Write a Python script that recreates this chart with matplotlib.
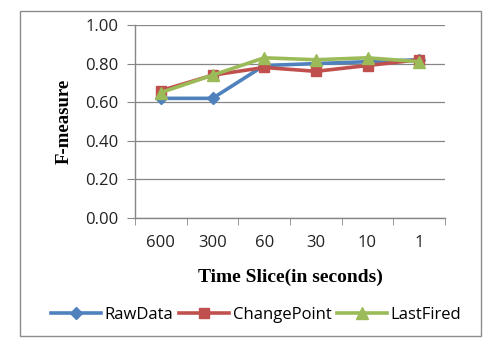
import matplotlib
matplotlib.use("Agg")
import matplotlib.pyplot as plt
from matplotlib.patches import Rectangle

categories = ["600", "300", "60", "30", "10", "1"]
raw_data = [0.62, 0.62, 0.79, 0.80, 0.81, 0.82]
change_point = [0.66, 0.74, 0.78, 0.76, 0.79, 0.82]
last_fired = [0.65, 0.74, 0.83, 0.82, 0.83, 0.81]
y_ticks = [0.0, 0.2, 0.4, 0.6, 0.8, 1.0]

W, H = 492, 346
fig = plt.figure(figsize=(W / 100, H / 100), dpi=100)
fig.patch.set_facecolor("white")

# outer chart frame
fig.add_artist(Rectangle((20 / W, 1 - 336 / H), (481 - 20) / W, (336 - 11) / H,
                         transform=fig.transFigure, fill=False,
                         edgecolor="#8c8c8c", linewidth=1.0))

ax = fig.add_axes([135 / W, 1 - 218 / H, (445 - 135) / W, (218 - 25) / H])
x = list(range(len(categories)))
sans = ["Open Sans", "DejaVu Sans"]
serif = ["Liberation Serif", "DejaVu Serif"]

ax.plot(x, raw_data, color="#4F81BD", marker="D", markersize=6.5, linewidth=2.6,
        label="RawData", zorder=3)
ax.plot(x, change_point, color="#C0504D", marker="s", markersize=7.5, linewidth=2.6,
        label="ChangePoint", zorder=4)
ax.plot(x, last_fired, color="#9BBB59", marker="^", markersize=8.5, linewidth=2.6,
        label="LastFired", zorder=5)

ax.set_xlim(-0.5, len(categories) - 0.5)
ax.set_ylim(0, 1.0)
ax.set_yticks(y_ticks)
ax.set_yticklabels([f"{v:.2f}" for v in y_ticks], fontsize=12, family=sans, color="#222222")
ax.set_xticks(x)
ax.set_xticklabels(categories, fontsize=12, family=sans, color="#222222")
ax.set_xticks([i - 0.5 for i in range(len(categories) + 1)], minor=True)
ax.tick_params(axis="x", which="major", length=0, pad=12)
ax.tick_params(axis="x", which="minor", length=5, color="#868686", direction="out")
ax.tick_params(axis="y", length=6, color="#868686", direction="out", pad=6)

ax.grid(axis="y", color="#868686", linewidth=0.9)
ax.set_axisbelow(True)
for s in ["top", "right"]:
    ax.spines[s].set_visible(False)
for s in ["left", "bottom"]:
    ax.spines[s].set_color("#868686")
    ax.spines[s].set_linewidth(1.0)

ax.set_ylabel("F-measure", fontsize=13.5, fontweight="bold", family=serif, labelpad=9)
ax.set_xlabel("Time Slice(in seconds)", fontsize=14, fontweight="bold", family=serif, labelpad=13)

leg = fig.legend(loc="center", bbox_to_anchor=(256 / W, 1 - 315 / H), ncol=3,
                 frameon=False, handlelength=3.0, columnspacing=0.3,
                 handletextpad=0.25, prop={"family": sans, "size": 12})

fig.savefig("out.png", dpi=100, facecolor="white")
